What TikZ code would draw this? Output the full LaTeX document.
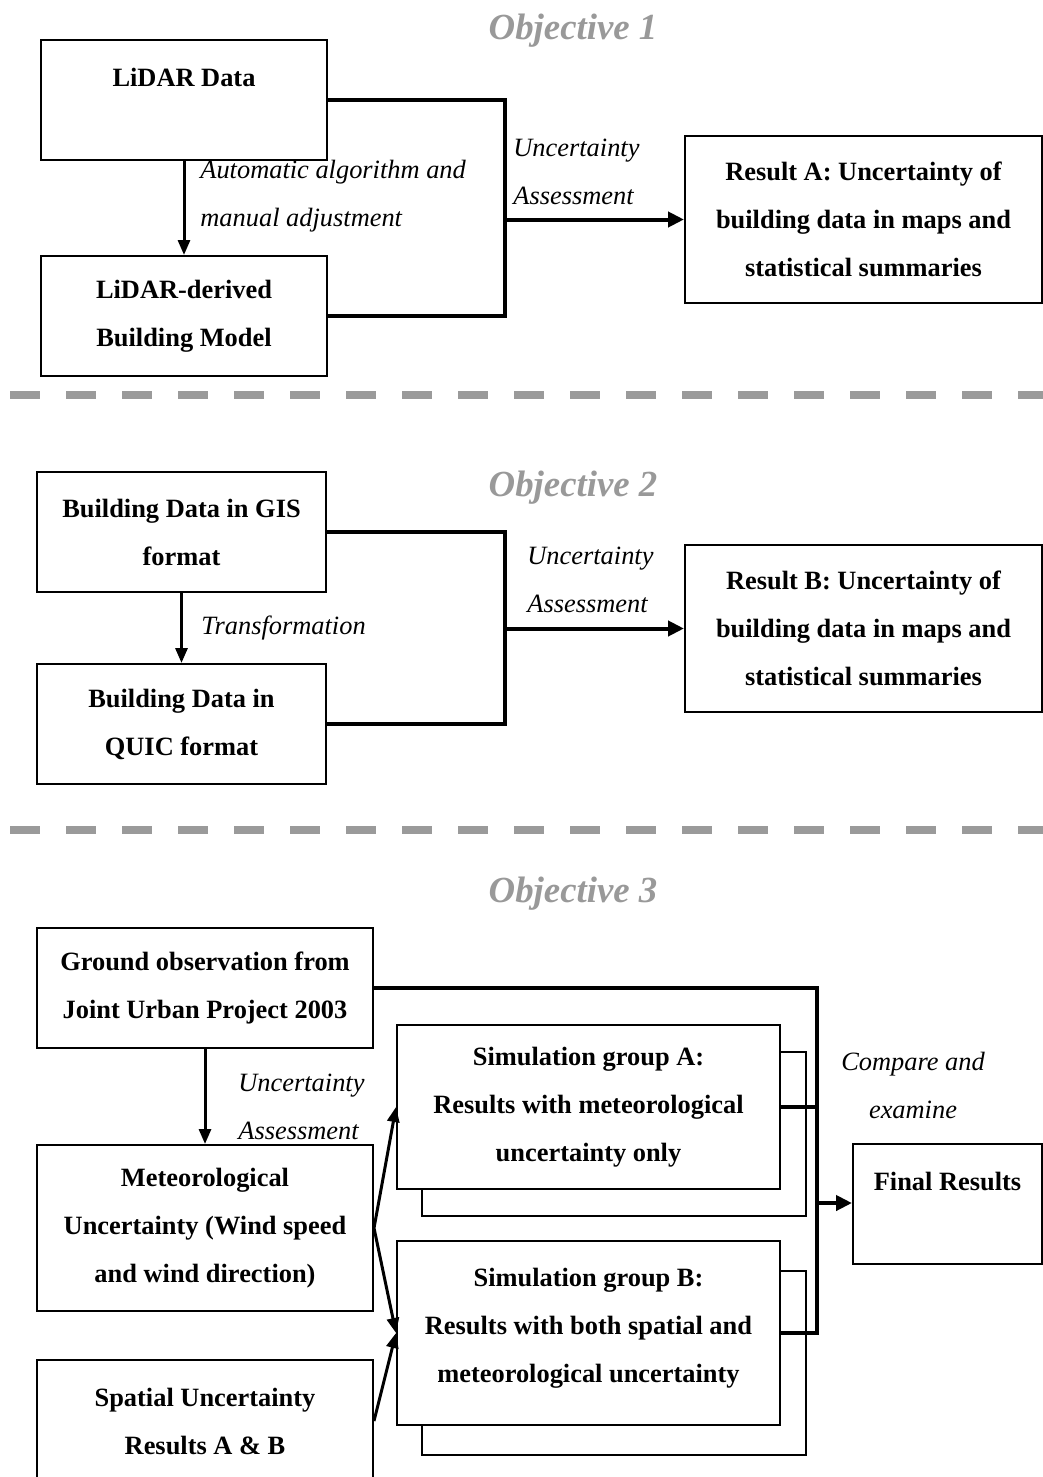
\documentclass[tikz,border=0pt]{standalone}
\usepackage{fontspec}
\setmainfont{Liberation Serif}
\usetikzlibrary{arrows.meta}
\definecolor{titlegray}{HTML}{999999}
\definecolor{dashgray}{HTML}{9A9A9A}
\tikzset{
  box/.style={draw=black, line width=1pt, fill=white, inner sep=0pt, align=center,
    font=\fontsize{13.2pt}{24pt}\selectfont\bfseries},
  shadowbox/.style={draw=black, line width=0.8pt, fill=white, inner sep=0pt},
  lbl/.style={inner sep=0pt, anchor=west, align=left, font=\fontsize{13.2pt}{24pt}\selectfont\itshape},
  clbl/.style={inner sep=0pt, align=center, font=\fontsize{13.2pt}{24pt}\selectfont\itshape},
  objtitle/.style={inner sep=0pt, text=titlegray, font=\fontsize{18.4pt}{22pt}\selectfont\bfseries\itshape},
  conn/.style={line width=2pt, line join=miter},
  connarrow/.style={line width=2pt, -{Triangle[length=8pt,width=7.5pt]}},
  arr/.style={line width=1.5pt, -{Triangle[length=7.5pt,width=6pt]}},
  sepline/.style={line width=4pt, draw=dashgray, dash pattern=on 15pt off 13pt}
}
\begin{document}
\begin{tikzpicture}[x=0.5pt,y=-0.5pt]
\useasboundingbox (0,0) rectangle (1043,1477);

% ---------- Objective 1 ----------
\node[objtitle] (obj1) at (573,31) {Objective 1};
\node[box, minimum width=143pt, minimum height=60pt] (lidar) at (184,100) {LiDAR Data\\[-9pt] \strut};
\node[box, minimum width=143pt, minimum height=60pt] (lidarb) at (184,316) {LiDAR-derived\\Building Model};
\node[box, minimum width=178.5pt, minimum height=83pt] (resA) at (863.5,219.5) {Result A: Uncertainty of\\building data in maps and\\statistical summaries};
\draw[arr] (lidar.south) -- (lidarb.north);
\node[lbl] (lab1) at (200,196) {Automatic algorithm and\\manual adjustment};
\coordinate (j1) at (505,219.5);
\draw[conn] (lidar.east) -| (j1) |- (lidarb.east);
\draw[connarrow] (j1) -- (resA.west);
\node[lbl] (lab2) at (513,172) {Uncertainty\\Assessment};

\coordinate (d1a) at (10,395);
\coordinate (d1b) at (1043,395);
\draw[sepline] (d1a) -- (d1b);

% ---------- Objective 2 ----------
\node[objtitle] (obj2) at (573,488) {Objective 2};
\node[box, minimum width=144.5pt, minimum height=60pt] (gis) at (181.5,532) {Building Data in GIS\\format};
\node[box, minimum width=144.5pt, minimum height=60pt] (quic) at (181.5,724) {Building Data in\\QUIC format};
\node[box, minimum width=178.5pt, minimum height=83.5pt] (resB) at (863.5,628.5) {Result B: Uncertainty of\\building data in maps and\\statistical summaries};
\draw[arr] (gis.south) -- (quic.north);
\node[lbl] (lab3) at (201,628) {Transformation};
\coordinate (j2) at (505,628.5);
\draw[conn] (gis.east) -| (j2) |- (quic.east);
\draw[connarrow] (j2) -- (resB.west);
\node[lbl] (lab4) at (527,580) {Uncertainty\\Assessment};

\coordinate (d2a) at (10,830);
\coordinate (d2b) at (1043,830);
\draw[sepline] (d2a) -- (d2b);

% ---------- Objective 3 ----------
\node[objtitle] (obj3) at (573,894) {Objective 3};
\node[box, minimum width=168pt, minimum height=60pt] (ground) at (205,988) {Ground observation from\\Joint Urban Project 2003};
\node[box, minimum width=168pt, minimum height=83pt] (met) at (205,1228) {Meteorological\\Uncertainty (Wind speed\\and wind direction)};
\node[box, minimum width=168pt, minimum height=61pt] (spatial) at (205,1421) {Spatial Uncertainty\\Results A \& B};

\node[shadowbox, minimum width=192pt, minimum height=82pt] (simAsh) at (614,1134) {};
\node[box, minimum width=191.5pt, minimum height=82pt] (simA) at (588.5,1107) {Simulation group A:\\Results with meteorological\\uncertainty only};
\node[shadowbox, minimum width=192pt, minimum height=92pt] (simBsh) at (614,1363) {};
\node[box, minimum width=191.5pt, minimum height=92pt] (simB) at (588.5,1333) {Simulation group B:\\Results with both spatial and\\meteorological uncertainty\\[-24pt] \strut};

\node[box, minimum width=94.5pt, minimum height=60pt] (final) at (947.5,1204) {Final Results\\[-8.5pt] \strut};

\draw[arr] (ground.south) -- (met.north);
\node[lbl] (lab5) at (238,1107) {Uncertainty\\Assessment};
\draw[arr] (met.east) -- (simA.west);
\draw[arr] (met.east) -- (simB.west);
\draw[arr] (spatial.east) -- (simB.west);

\coordinate (j3) at (817,1203);
\draw[conn] (ground.east) -| (j3);
\draw[conn] (simA.east) -| (j3);
\draw[conn] (simB.east) -| (j3);
\draw[connarrow] (j3) -- (final.west |- j3);
\node[clbl] (lab6) at (913,1085) {Compare and\\examine};
\end{tikzpicture}
\end{document}
